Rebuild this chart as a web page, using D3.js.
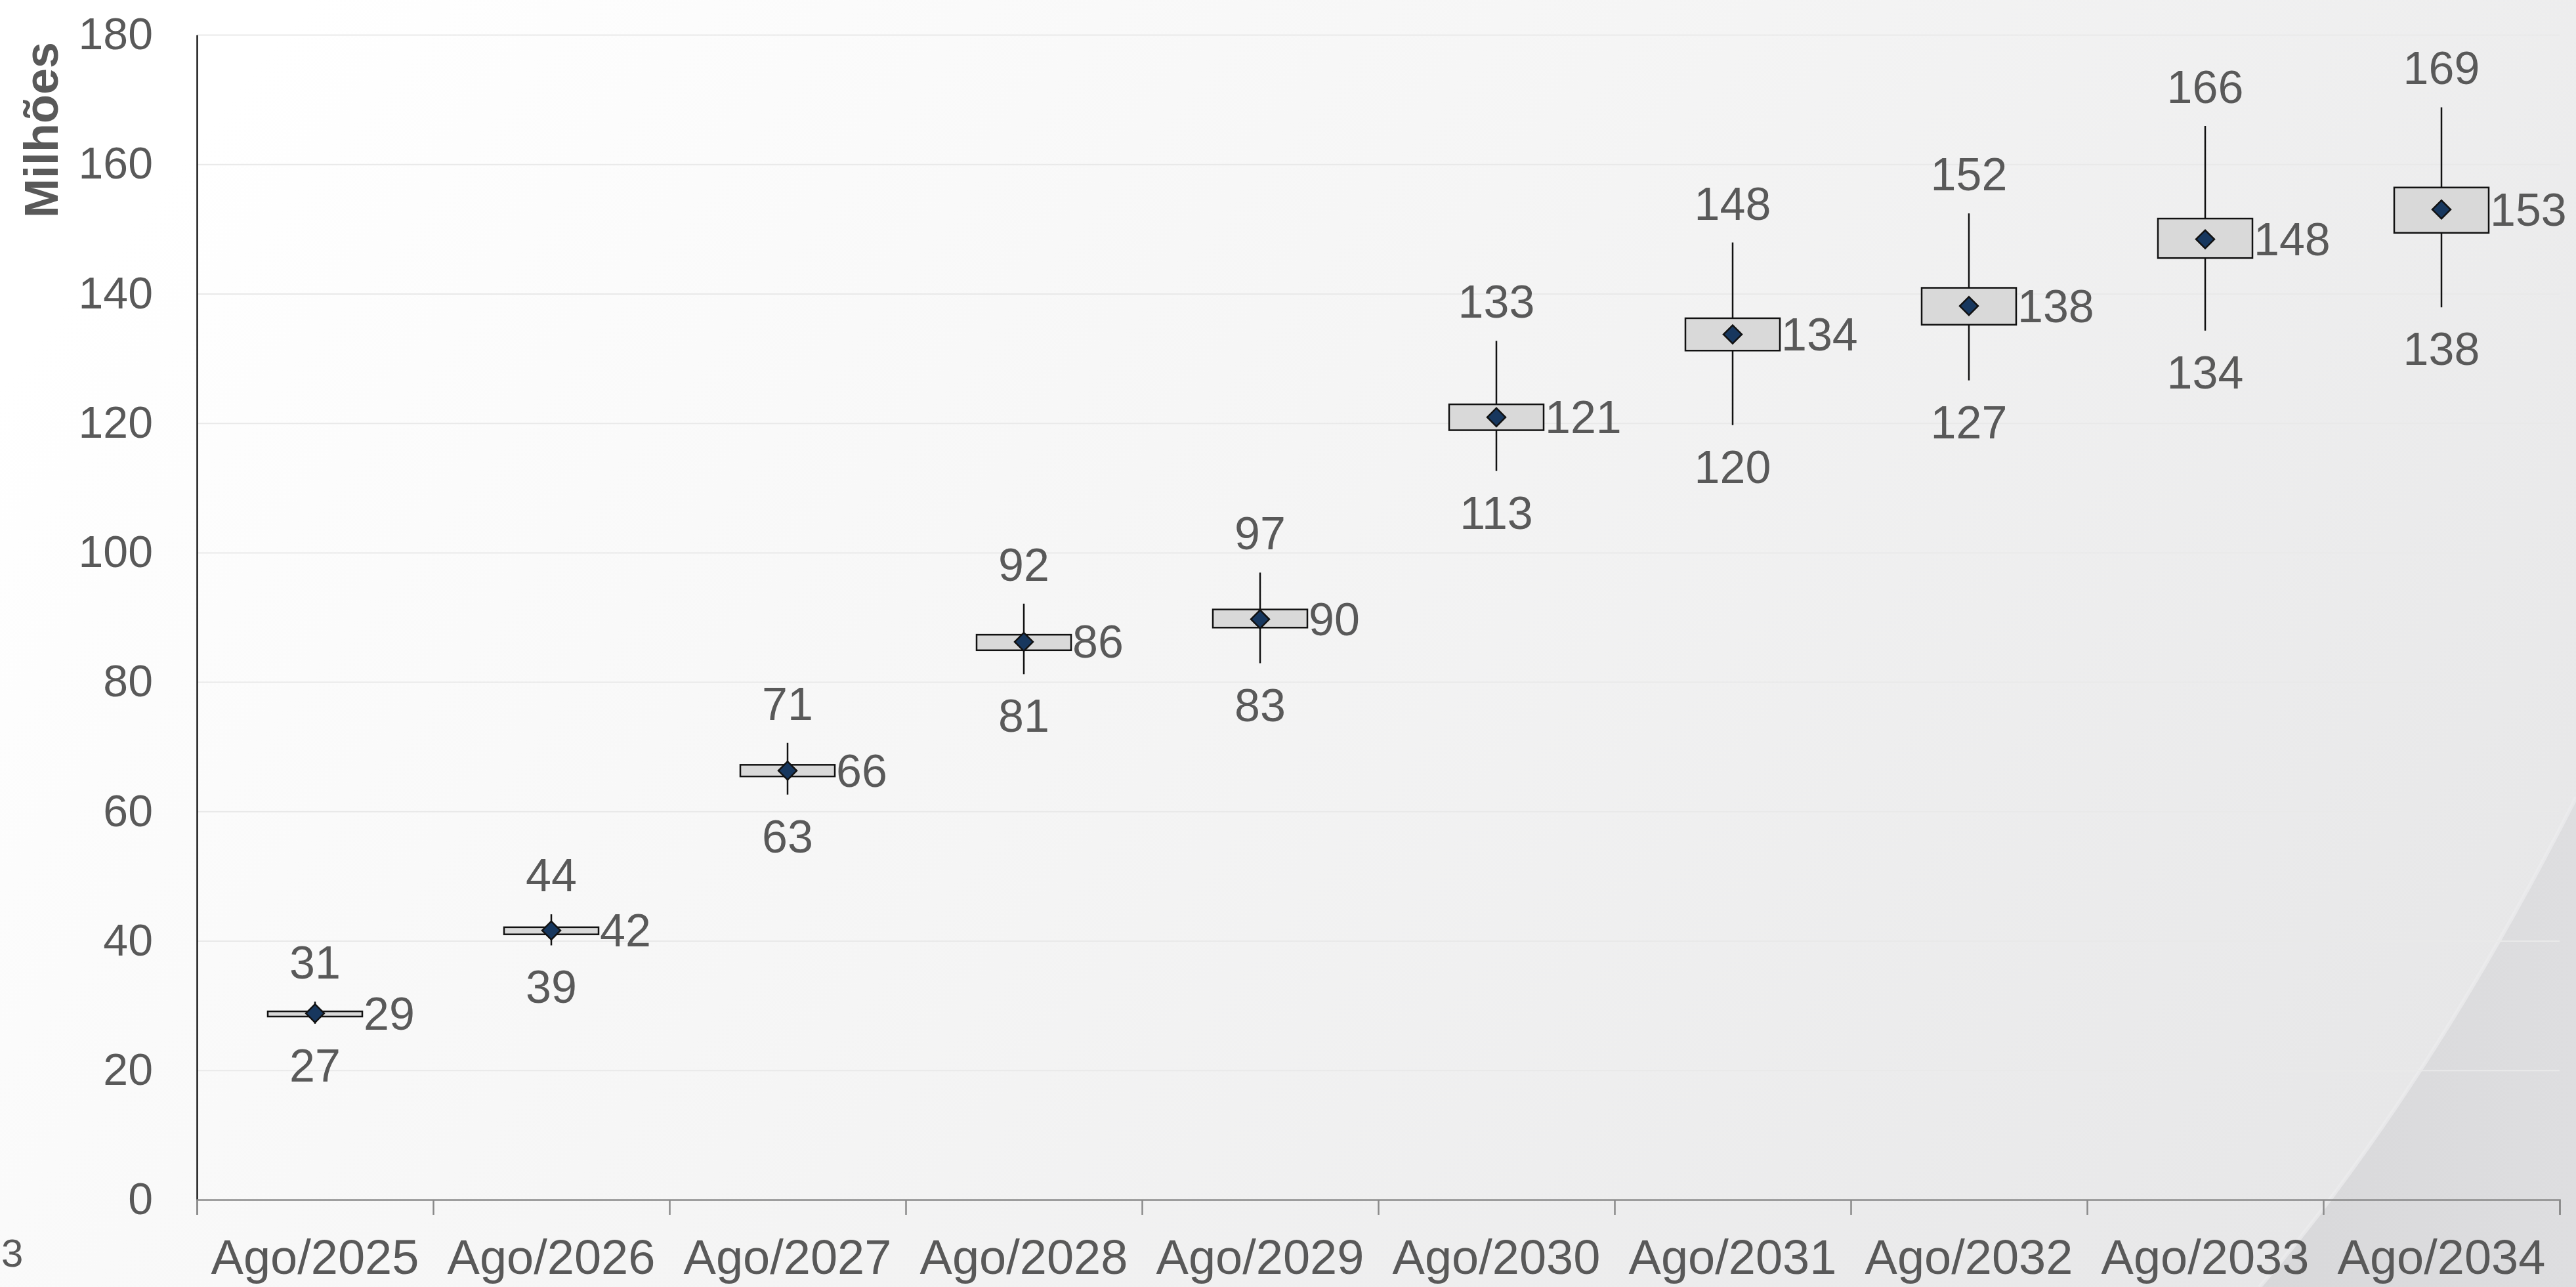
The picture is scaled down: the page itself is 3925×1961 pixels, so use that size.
<!DOCTYPE html>
<html>
<head>
<meta charset="utf-8">
<script src="https://cdn.jsdelivr.net/npm/d3@7"></script>
<style>
  html, body { margin: 0; padding: 0; background: #fff; }
  svg { display: block; font-family: "Liberation Sans", Arial, sans-serif; }
</style>
</head>
<body>
<div id="chart"></div>
<script>
// categories (x axis)
const categories = ["Ago/2025", "Ago/2026", "Ago/2027", "Ago/2028", "Ago/2029",
                    "Ago/2030", "Ago/2031", "Ago/2032", "Ago/2033", "Ago/2034"];

// box plot values, in millions
const minValues  = [27.2, 39.3, 62.6, 81.2, 82.9, 112.6, 119.7, 126.6, 134.3, 137.9];
const q1Values   = [28.3, 41.0, 65.4, 84.9, 88.4, 118.9, 131.2, 135.2, 145.5, 149.4];
const meanValues = [28.8, 41.6, 66.3, 86.2, 89.7, 120.9, 133.7, 138.1, 148.4, 153.0];
const q3Values   = [29.1, 42.1, 67.2, 87.3, 91.2, 122.9, 136.2, 140.9, 151.6, 156.4];
const maxValues  = [30.6, 44.1, 70.6, 92.1, 96.9, 132.7, 147.9, 152.4, 165.9, 168.8];

const yTicks = [0, 20, 40, 60, 80, 100, 120, 140, 160, 180];
const yTitle = "Milhões";

const W = 3925, H = 1961;
const margin = {left: 300, right: 25, top: 53, bottom: 133};
const plotW = W - margin.left - margin.right,
      plotH = H - margin.top - margin.bottom;

const textColor = "#595959";
const fmt = d3.format(".0f");

let rows = categories.map((c, i) => ({
    cat: c, min: minValues[i], q1: q1Values[i], mean: meanValues[i], q3: q3Values[i], max: maxValues[i]
}));

let svg = d3.select("#chart")
    .append("svg")
    .attr("width", W)
    .attr("height", H);

// background
let defs = svg.append("defs");
let bg = defs.append("linearGradient")
    .attr("id", "bgGrad")
    .attr("x1", "0%").attr("y1", "30%")
    .attr("x2", "100%").attr("y2", "70%");
bg.selectAll("stop")
  .data([
    {offset: "0%", color: "#ffffff"},
    {offset: "45%", color: "#f5f5f5"},
    {offset: "100%", color: "#e7e7e8"}
  ])
  .enter().append("stop")
    .attr("offset", d => d.offset)
    .attr("stop-color", d => d.color);

let swoosh = defs.append("linearGradient")
    .attr("id", "swooshGrad")
    .attr("x1", "0%").attr("y1", "0%")
    .attr("x2", "100%").attr("y2", "0%");
swoosh.selectAll("stop")
  .data([
    {offset: "0%", color: "#d8d8da"},
    {offset: "100%", color: "#dedee0"}
  ])
  .enter().append("stop")
    .attr("offset", d => d.offset)
    .attr("stop-color", d => d.color);

svg.append("rect")
    .attr("width", W).attr("height", H)
    .attr("fill", "url(#bgGrad)");

// decorative curve at bottom right
svg.append("path")
    .attr("d", `M3443,${H} Q3700,1660 ${W},1215 L${W},${H} Z`)
    .attr("fill", "url(#swooshGrad)");
svg.append("path")
    .attr("d", `M3443,${H} Q3700,1660 ${W},1215`)
    .attr("fill", "none")
    .attr("stroke", "#ececee")
    .attr("stroke-width", 6)
    .attr("opacity", 0.7);

let g = svg.append("g")
    .attr("transform", `translate(${margin.left},${margin.top})`);

// scales
let x = d3.scaleBand()
    .domain(categories)
    .range([0, plotW])
    .padding(0);
let y = d3.scaleLinear()
    .domain([0, 180])
    .range([plotH, 0]);

// gridlines
g.append("g")
    .attr("class", "grid")
    .call(d3.axisLeft(y).tickValues(yTicks.slice(1)).tickSize(-plotW).tickFormat(""))
    .call(s => s.select(".domain").remove())
    .selectAll("line")
    .attr("stroke", "#e9e9e9")
    .attr("stroke-width", 2);

// y axis
let yAxis = g.append("g")
    .call(d3.axisLeft(y).tickValues(yTicks).tickSize(0).tickPadding(67));
yAxis.select(".domain")
    .attr("stroke", "#1a1a1a")
    .attr("stroke-width", 2.5);
yAxis.selectAll("text")
    .attr("fill", textColor)
    .style("font-size", "68px");

// x axis: ticks at band boundaries
let xEdge = d3.scaleLinear()
    .domain([0, categories.length])
    .range([0, plotW]);
let xTickAxis = g.append("g")
    .attr("transform", `translate(0,${plotH})`)
    .call(d3.axisBottom(xEdge).ticks(categories.length).tickSize(23).tickFormat(""));
xTickAxis.select(".domain")
    .attr("stroke", "#8a8a8a")
    .attr("stroke-width", 2.5);
xTickAxis.selectAll("line")
    .attr("stroke", "#8a8a8a")
    .attr("stroke-width", 2.5);

let xAxis = g.append("g")
    .attr("transform", `translate(0,${plotH})`)
    .call(d3.axisBottom(x).tickSize(0).tickPadding(60));
xAxis.select(".domain").remove();
xAxis.selectAll("text")
    .attr("fill", textColor)
    .attr("dy", "0.71em")
    .style("font-size", "74px");

// y axis title
svg.append("text")
    .attr("transform", `translate(88,198) rotate(-90)`)
    .attr("text-anchor", "middle")
    .attr("fill", textColor)
    .style("font-size", "72px")
    .style("font-weight", "bold")
    .text(yTitle);

// page number at bottom left
svg.append("text")
    .attr("x", 2)
    .attr("y", 1930)
    .attr("text-anchor", "start")
    .attr("fill", textColor)
    .style("font-size", "60px")
    .text("3");

// boxes
let boxW = x.bandwidth() * 0.4;
let cx = d => x(d.cat) + x.bandwidth() / 2;

let boxes = g.selectAll(".box")
    .data(rows)
    .enter()
    .append("g")
    .attr("class", "box");

boxes.append("line")
    .attr("x1", cx).attr("x2", cx)
    .attr("y1", d => y(d.max))
    .attr("y2", d => y(d.min))
    .attr("stroke", "#111")
    .attr("stroke-width", 2.5);

boxes.append("rect")
    .attr("x", d => cx(d) - boxW / 2)
    .attr("y", d => y(d.q3))
    .attr("width", boxW)
    .attr("height", d => y(d.q1) - y(d.q3))
    .attr("fill", "#d9d9d9")
    .attr("stroke", "#111")
    .attr("stroke-width", 2.5);

boxes.append("path")
    .attr("d", d3.symbol().type(d3.symbolSquare).size(390))
    .attr("transform", d => `translate(${cx(d)},${y(d.mean)}) rotate(45)`)
    .attr("fill", "#17375e")
    .attr("stroke", "#111")
    .attr("stroke-width", 2.5);

// labels
boxes.append("text")
    .attr("x", cx)
    .attr("y", d => y(d.max) - 35)
    .attr("text-anchor", "middle")
    .attr("fill", textColor)
    .style("font-size", "70px")
    .text(d => fmt(d.max));

boxes.append("text")
    .attr("x", cx)
    .attr("y", d => y(d.min) + 88)
    .attr("text-anchor", "middle")
    .attr("fill", textColor)
    .style("font-size", "70px")
    .text(d => fmt(d.min));

boxes.append("text")
    .attr("x", d => cx(d) + boxW / 2 + 2)
    .attr("y", d => y(d.mean))
    .attr("dy", "0.35em")
    .attr("text-anchor", "start")
    .attr("fill", textColor)
    .style("font-size", "70px")
    .text(d => fmt(d.mean));
</script>
</body>
</html>
